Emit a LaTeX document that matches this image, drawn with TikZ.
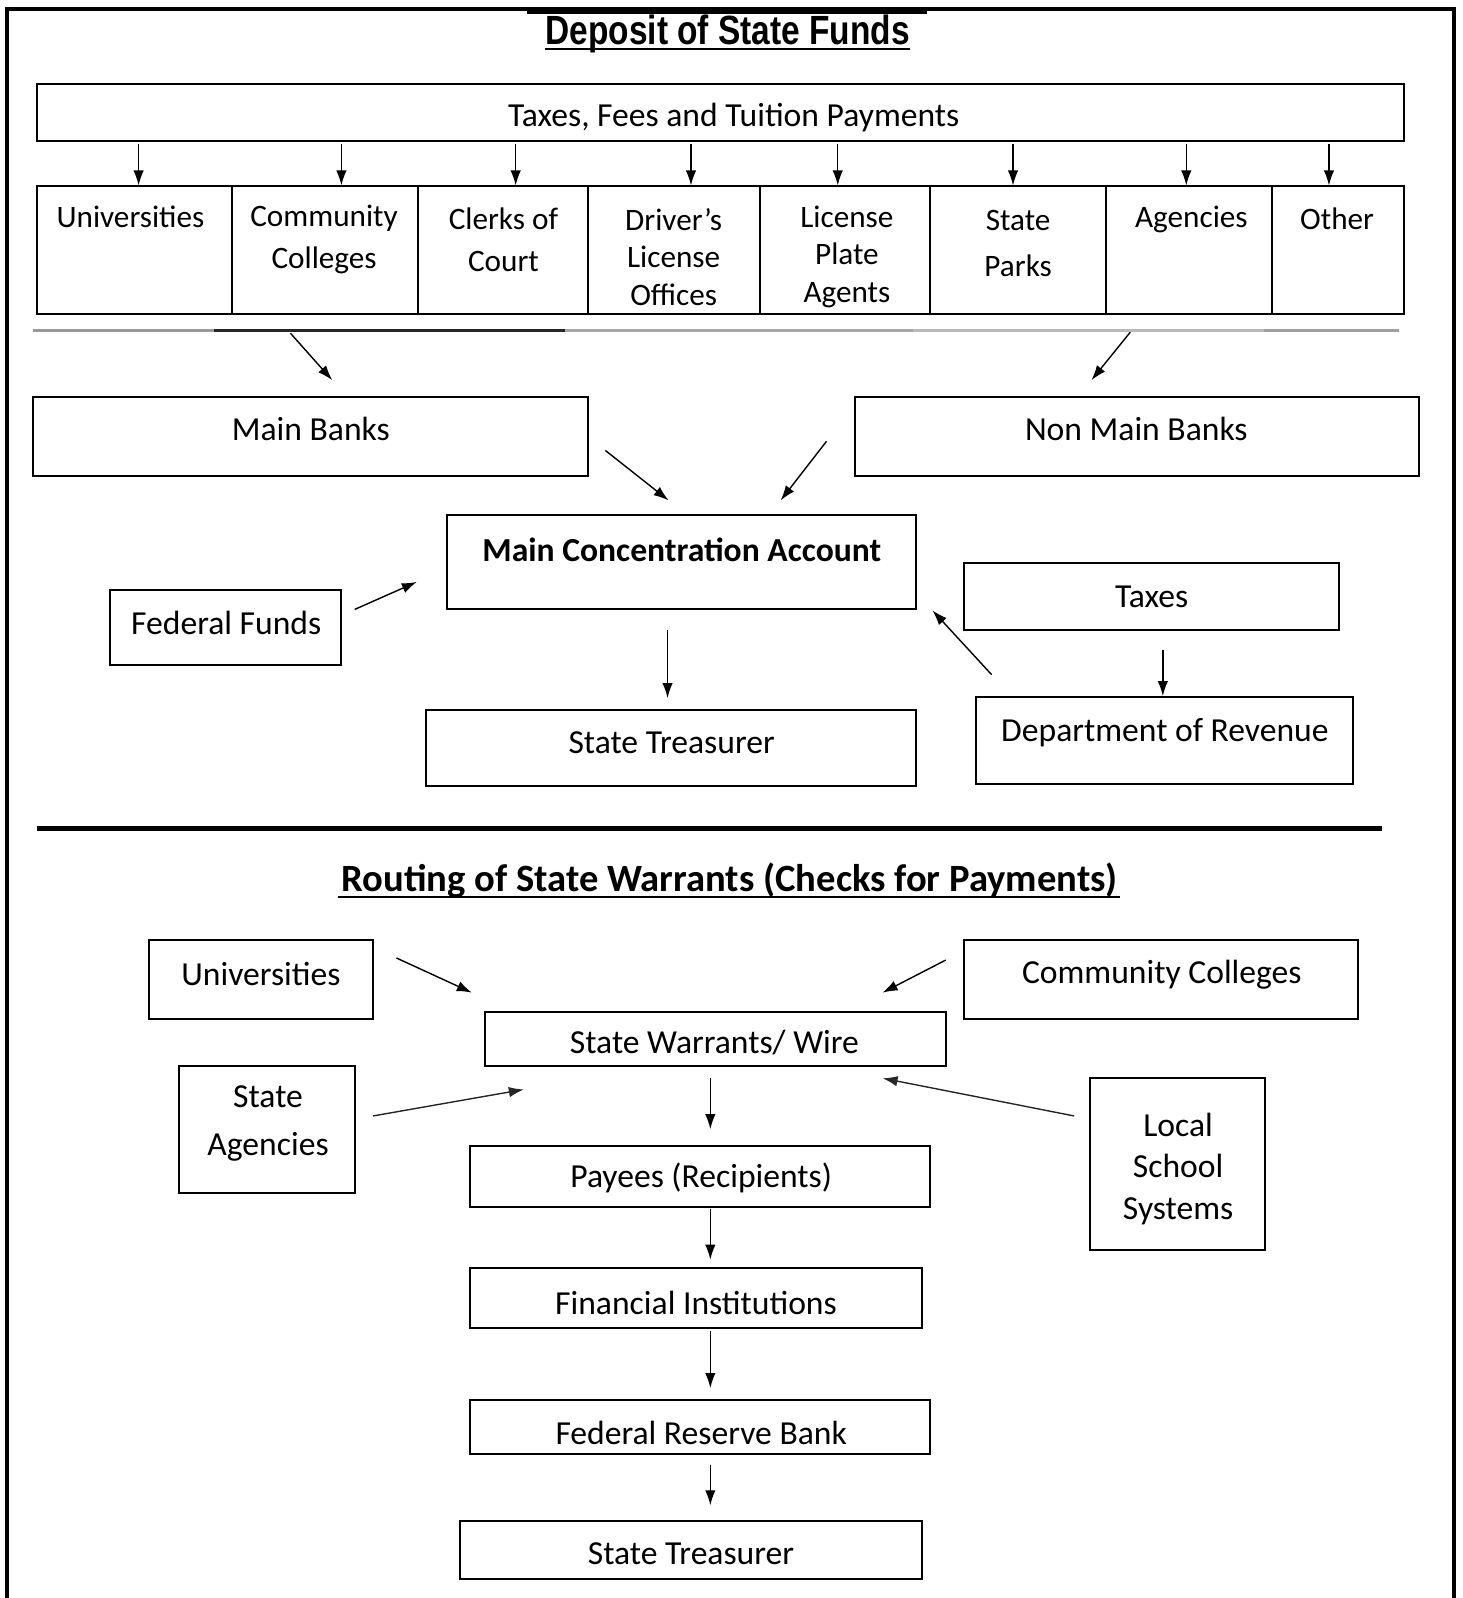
\documentclass[tikz,border=0pt]{standalone}
\usepackage{fontspec}
\setmainfont{Carlito}
\newfontfamily\libsans{Liberation Sans}
\usetikzlibrary{arrows.meta,fit}
\begin{document}
\begin{tikzpicture}[x=0.5094pt,y=-0.5094pt,
  box/.style={draw, line width=1pt, inner sep=0pt},
  txt/.style={font=\fontsize{16.8pt}{#1}\selectfont, align=center, inner sep=0pt},
  txt/.default=20pt,
  rtxt/.style={font=\fontsize{15.6pt}{#1}\selectfont, align=center, inner sep=0pt},
  rtxt/.default=20pt,
  arr/.style={-{Latex[length=7.5pt,width=5.2pt]}, line width=0.7pt},
  sep/.style={line width=1.5pt}]
\useasboundingbox (0,0) rectangle (1435,1568);
% outer frame
\draw[line width=2pt] (7,1570) -- (7,9) -- (1427,9) -- (1427,1570);
\draw[line width=2.2pt] (517,12) -- (910,12);
% ---------------- Deposit of State Funds ----------------
\node[inner sep=0pt] (t1) at (714,33) {\libsans\bfseries\fontsize{20.4pt}{24pt}\selectfont\scalebox{0.82}[1]{Deposit of State Funds}};
\draw[line width=1.4pt] (535,48) -- (893,48);
\node[box,fit={(36,82)(1378,138)}] (pay) {};
\node[txt] (payt) at (720,115) {Taxes, Fees and Tuition Payments};
% row of cells
\node[box,fit={(36,183)(228,308)}] (c1) {};
\node[box,fit={(228,183)(410,308)}] (c2) {};
\node[box,fit={(410,183)(577,308)}] (c3) {};
\node[box,fit={(577,183)(746,308)}] (c4) {};
\node[box,fit={(746,183)(913,308)}] (c5) {};
\node[box,fit={(913,183)(1085,308)}] (c6) {};
\node[box,fit={(1085,183)(1248,308)}] (c7) {};
\node[box,fit={(1248,183)(1378,308)}] (c8) {};
\node[rtxt] (c1t) at (128,213) {Universities};
\node[rtxt=20.9pt] (c2t) at (318,235) {Community\\Colleges};
\node[rtxt=20.9pt] (c3t) at (494,235) {Clerks of\\Court};
\node[rtxt=18.8pt] (c4t) at (661,252) {Driver’s\\License\\Offices};
\node[rtxt=18.8pt] (c5t) at (831,252) {License\\Plate\\Agents};
\node[rtxt=22.9pt] (c6t) at (999,239) {State\\Parks};
\node[rtxt] (c7t) at (1169,215) {Agencies};
\node[rtxt] (c8t) at (1312,215) {Other};
\foreach \i/\x in {1/136,2/335,3/506,4/678,5/822,6/994,7/1164,8/1304}{
  \coordinate (a\i) at (\x,141);
  \draw[arr] (a\i) -- (a\i |- c\i.north);
}
% gray divider
\draw[sep,gray!80] (32,324) -- (210,324);
\draw[sep,black!85] (210,324) -- (554,324);
\draw[sep,gray!70] (554,324) -- (896,324);
\draw[sep,gray!55] (896,324) -- (1240,324);
\draw[sep,gray!75] (1240,324) -- (1373,324);
% banks
\node[box,fit={(32,390)(577,467)}] (mb) {};
\node[txt] (mbt) at (305,421) {Main Banks};
\node[box,fit={(839,390)(1392,467)}] (nmb) {};
\node[txt] (nmbt) at (1115,421) {Non Main Banks};
\coordinate (g1) at (285,327);
\coordinate (g1e) at (326,373);
\draw[arr] (g1) -- (g1e);
\coordinate (g2) at (1109,326);
\coordinate (g2e) at (1071,373);
\draw[arr] (g2) -- (g2e);
% main concentration account
\node[box,fit={(439,505)(899,598)}] (mca) {};
\node[txt,font=\fontsize{16.8pt}{20pt}\selectfont\bfseries] (mcat) at (669,539) {Main Concentration Account};
\coordinate (m1) at (594,442);
\coordinate (m1e) at (656,491);
\draw[arr] (m1) -- (m1e);
\coordinate (m2) at (811,433);
\coordinate (m2e) at (766,491);
\draw[arr] (m2) -- (m2e);
\node[box,fit={(108,579)(335,653)}] (ff) {};
\node[txt] (fft) at (222,611) {Federal Funds};
\coordinate (f1) at (348,598);
\coordinate (f1e) at (409,571);
\draw[arr] (f1) -- (f1e);
\node[box,fit={(946,552)(1314,618)}] (tax) {};
\node[txt] (taxt) at (1130,586) {Taxes};
\node[box,fit={(958,684)(1328,769)}] (dor) {};
\node[txt] (dort) at (1143,719) {Department of Revenue};
\coordinate (x1) at (1141,638);
\draw[arr] (x1) -- (x1 |- dor.north);
\coordinate (d1) at (973,662);
\coordinate (d1e) at (915,599);
\draw[arr] (d1) -- (d1e);
\node[box,fit={(418,697)(899,771)}] (st1) {};
\node[txt] (st1t) at (659,729) {State Treasurer};
\coordinate (s1) at (655,618);
\coordinate (s1e) at (655,685);
\draw[arr] (s1) -- (s1e);
% thick separator
\draw[line width=2.8pt] (36,813) -- (1356,813);
% ---------------- Routing of State Warrants ----------------
\node[inner sep=0pt] (t2) at (716,864) {\fontsize{19.3pt}{23pt}\selectfont\bfseries Routing of State Warrants (Checks for Payments)};
\draw[line width=1.1pt] (332,880) -- (1099,880);
\node[box,fit={(146,922)(366,1000)}] (uni) {};
\node[txt] (unit) at (256,956) {Universities};
\node[box,fit={(946,922)(1332,1000)}] (cc) {};
\node[txt] (cct) at (1140,956) {Community Colleges};
\node[box,fit={(476,993)(928,1046)}] (sw) {};
\node[txt] (swt) at (701,1023) {State Warrants/ Wire};
\coordinate (u1) at (389,940);
\coordinate (u1e) at (463,974);
\draw[arr] (u1) -- (u1e);
\coordinate (k1) at (928,942);
\coordinate (k1e) at (866,974);
\draw[arr] (k1) -- (k1e);
\node[box,fit={(176,1046)(348,1171)}] (sa) {};
\node[txt=23.9pt] (sat) at (263,1102) {State\\Agencies};
\coordinate (q1) at (366,1095);
\coordinate (q1e) at (514,1069);
\draw[arr,black!85] (q1) -- (q1e);
\node[box,fit={(1070,1058)(1241,1227)}] (lss) {};
\node[txt=20.6pt] (lsst) at (1156,1147) {Local\\School\\Systems};
\coordinate (l1) at (1054,1095);
\coordinate (l1e) at (866,1058);
\draw[arr,black!85] (l1) -- (l1e);
\node[box,fit={(461,1124)(913,1184)}] (pay2) {};
\node[txt] (pay2t) at (688,1156) {Payees (Recipients)};
\coordinate (p1) at (697,1058);
\draw[arr] (p1) -- (697,1108) coordinate (p1e);
\node[box,fit={(461,1244)(905,1303)}] (fi) {};
\node[txt] (fit) at (683,1278) {Financial Institutions};
\coordinate (p2) at (697,1186);
\draw[arr] (p2) -- (697,1236) coordinate (p2e);
\node[box,fit={(461,1374)(913,1427)}] (frb) {};
\node[txt] (frbt) at (688,1406) {Federal Reserve Bank};
\coordinate (p3) at (697,1306);
\draw[arr] (p3) -- (697,1362) coordinate (p3e);
\node[box,fit={(451,1492)(905,1549)}] (st2) {};
\node[txt] (st2t) at (678,1525) {State Treasurer};
\coordinate (p4) at (697,1437);
\draw[arr] (p4) -- (697,1477) coordinate (p4e);
\end{tikzpicture}
\end{document}
